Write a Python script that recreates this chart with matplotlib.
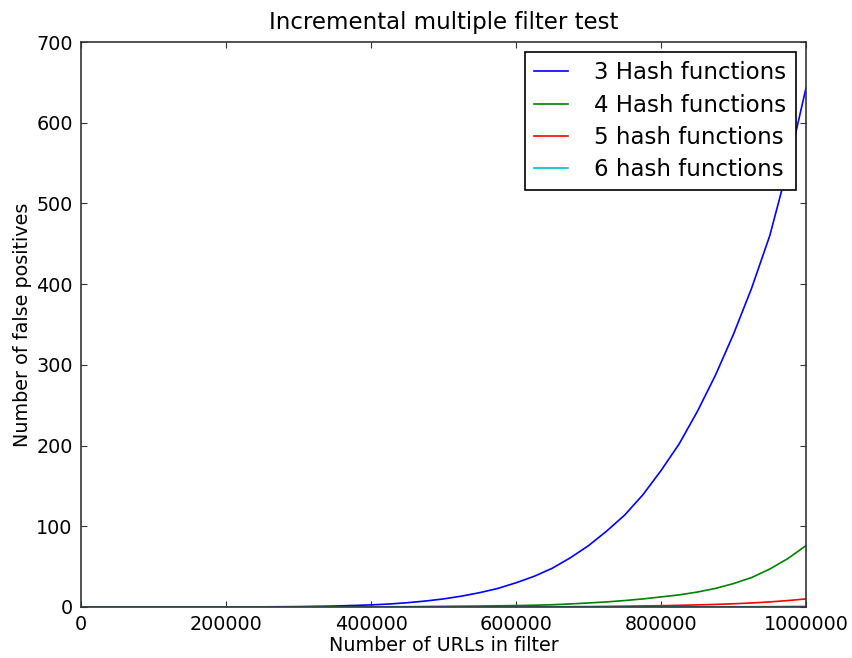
import matplotlib
matplotlib.use("Agg")
import matplotlib.pyplot as plt

urls = [0, 100000, 200000, 250000, 300000, 350000, 400000, 425000, 450000, 475000,
        500000, 525000, 550000, 575000, 600000, 625000, 650000, 675000, 700000,
        725000, 750000, 775000, 800000, 825000, 850000, 875000, 900000, 925000,
        950000, 975000, 1000000]
hash3 = [0, 0, 0.1, 0.2, 0.5, 1.2, 2.6, 3.7, 5.3, 7.4, 10, 13.5, 17.8, 23, 30, 38,
         48, 61, 76, 94, 114, 139, 169, 202, 242, 287, 338, 395, 460, 545, 643]
hash4 = [0, 0, 0, 0, 0, 0.1, 0.2, 0.3, 0.4, 0.6, 0.8, 1.0, 1.2, 1.5, 1.8, 2.2,
         2.8, 3.8, 5, 6.3, 8, 10, 12.5, 15, 18.5, 23, 29, 36.5, 47, 60, 76]
hash5 = [0, 0, 0, 0, 0, 0, 0, 0, 0, 0, 0, 0, 0, 0.1, 0.1, 0.2,
         0.3, 0.4, 0.5, 0.7, 1.0, 1.3, 1.6, 2.1, 2.6, 3.2, 4, 5, 6.3, 8, 10]
hash6 = [0, 0, 0, 0, 0, 0, 0, 0, 0, 0, 0, 0, 0, 0, 0, 0,
         0, 0, 0, 0, 0, 0, 0.1, 0.1, 0.2, 0.2, 0.3, 0.4, 0.5, 0.7, 0.9]
labels = ["3 Hash functions", "4 Hash functions", "5 hash functions", "6 hash functions"]
colors = ["#0000ff", "#008000", "#ff0000", "#00bfbf"]

plt.rcParams['font.family'] = ['DejaVu Sans']
fig = plt.figure(figsize=(8.52, 6.58), dpi=100)
ax = fig.add_axes([81/852, 1-607/658, (806-81)/852, (607-42)/658])

for ys, lab, c in zip([hash3, hash4, hash5, hash6], labels, colors):
    ax.plot(urls, ys, color=c, lw=1.2, label=lab)

ax.set_xlim(0, 1000000)
ax.set_ylim(0, 700)
ax.set_xticks(range(0, 1000001, 200000))
ax.set_yticks(range(0, 701, 100))
ax.ticklabel_format(style='plain', useOffset=False)
ax.tick_params(direction='in', top=True, right=True, labelsize=13.8, length=4.6,
               width=0.8, pad=6, color='#333333')
for s in ax.spines.values():
    s.set_linewidth(1.2)
    s.set_color('#333333')
ax.set_title("Incremental multiple filter test", fontsize=16.5, pad=9)
ax.set_xlabel("Number of URLs in filter", fontsize=13.8, labelpad=1)
ax.set_ylabel("Number of false positives", fontsize=13.8, labelpad=3)
leg = ax.legend(loc='upper right', fontsize=16.5, fancybox=False, framealpha=1,
                edgecolor='black', borderaxespad=0.45, handlelength=1.5,
                handletextpad=1.15, labelspacing=0.4, borderpad=0.4)
leg.get_frame().set_linewidth(1.2)

fig.savefig("out.png", dpi=100)
